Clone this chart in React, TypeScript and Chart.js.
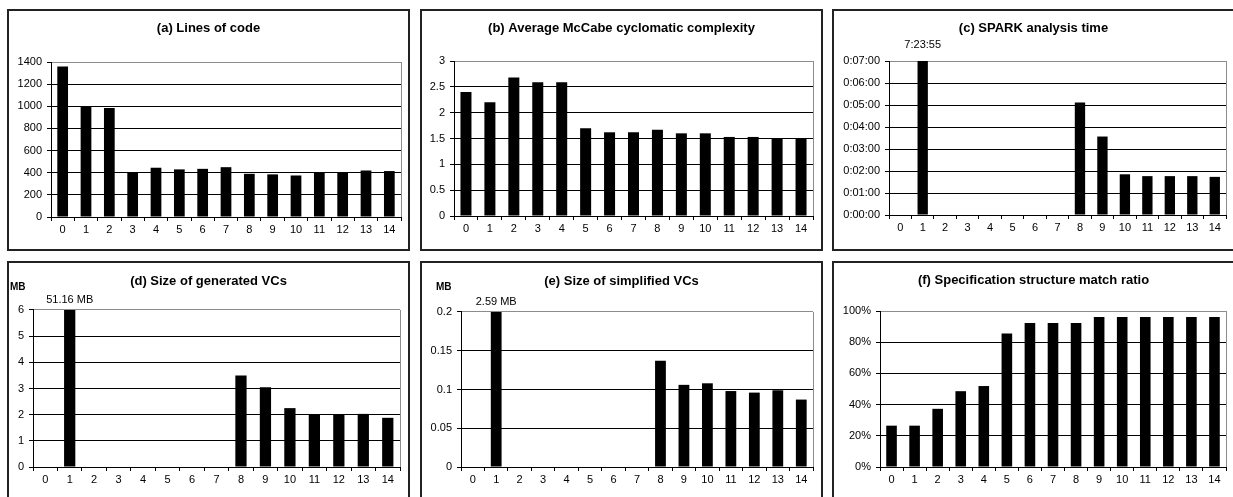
import React, { useEffect, useRef } from 'react';
import { Chart, registerables } from 'chart.js';
Chart.register(...registerables);

// ---------------- data ----------------
const categories = ['0', '1', '2', '3', '4', '5', '6', '7', '8', '9', '10', '11', '12', '13', '14'];

const linesOfCode = [1360, 995, 985, 405, 445, 430, 435, 450, 390, 385, 375, 405, 400, 420, 415];
const mccabeComplexity = [2.4, 2.2, 2.68, 2.59, 2.59, 1.7, 1.62, 1.62, 1.67, 1.6, 1.6, 1.53, 1.53, 1.5, 1.5];
const sparkTimeSeconds = [null, 26635, null, null, null, null, null, null, 307, 214, 111, 106, 106, 106, 104];
const generatedVCsMB = [null, 51.16, null, null, null, null, null, null, 3.5, 3.05, 2.25, 2.0, 2.0, 2.03, 1.88];
const simplifiedVCsMB = [null, 2.59, null, null, null, null, null, null, 0.137, 0.106, 0.108, 0.098, 0.096, 0.099, 0.087];
const matchRatioPct = [26.5, 26.5, 37.3, 48.6, 51.9, 85.5, 92.3, 92.3, 92.3, 96.2, 96.2, 96.2, 96.2, 96.2, 96.2];

const titles = [
  '(a) Lines of code',
  '(b) Average McCabe cyclomatic complexity',
  '(c) SPARK analysis time',
  '(d) Size of generated VCs',
  '(e) Size of simplified VCs',
  '(f) Specification structure match ratio',
];
const seriesList = [linesOfCode, mccabeComplexity, sparkTimeSeconds, generatedVCsMB, simplifiedVCsMB, matchRatioPct];
const yMaxList = [1400, 3, 420, 6, 0.2, 100];
const yStepList = [200, 0.5, 60, 1, 0.05, 20];
const unitLabels = ['', '', '', 'MB', 'MB', ''];

// ---------------- formatting ----------------
const pad2 = (n: number) => (n < 10 ? '0' : '') + n;
const hms = (s: number) => {
  const h = Math.floor(s / 3600);
  const m = Math.floor((s % 3600) / 60);
  const sec = Math.round(s % 60);
  return `${h}:${pad2(m)}:${pad2(sec)}`;
};
const trimNum = (v: number) => String(Number(Number(v).toFixed(6)));
const tickFormats = [trimNum, trimNum, hms, trimNum, trimNum, (v: number) => `${trimNum(v)}%`];
const overflowFormats = [null, null, hms, (v: number) => `${v} MB`, (v: number) => `${v} MB`, null];

// ---------------- layout (styles) ----------------
const FONT = "'Liberation Sans', Arial, Helvetica, sans-serif";
const PW = 403;
const PH = 242;
const panels = [
  { x: 7, y: 9, l: 44, r: 394, t: 53, b: 208, tc: 19.2, gap: 0, ux: 0, uy: 0 },
  { x: 420, y: 9, l: 34, r: 393, t: 52, b: 207, tc: 19.2, gap: 0, ux: 0, uy: 0 },
  { x: 832, y: 9, l: 57, r: 394, t: 52, b: 206, tc: 19.2, gap: 16, ux: 0, uy: 0 },
  { x: 7, y: 261, l: 26, r: 393, t: 49, b: 206, tc: 20, gap: 10, ux: 3, uy: 26 },
  { x: 420, y: 261, l: 41, r: 393, t: 51, b: 206, tc: 20, gap: 10, ux: 16, uy: 26 },
  { x: 832, y: 261, l: 48, r: 394, t: 50, b: 206, tc: 19.6, gap: 0, ux: 0, uy: 0 },
];

const align = (px: number) => Math.round(px - 0.5) + 0.5;

function Panel({ idx }: { idx: number }) {
  const ref = useRef<HTMLCanvasElement | null>(null);
  useEffect(() => {
    if (!ref.current) return;
    const p = panels[idx];
    const yMax = yMaxList[idx];
    const side = PW - p.r;
    const titleLH = 13 * 1.2;
    const titleTop = p.tc - titleLH / 2;
    const fmtOverflow = overflowFormats[idx];
    const unit = unitLabels[idx];

    const decor = {
      id: 'panelDecor' + idx,
      beforeDatasetsDraw(chart: any) {
        const { ctx, chartArea: a } = chart;
        ctx.save();
        ctx.strokeStyle = '#8c8c8c';
        ctx.lineWidth = 1;
        const x = align(a.right);
        ctx.beginPath();
        ctx.moveTo(x, a.top);
        ctx.lineTo(x, a.bottom);
        ctx.stroke();
        ctx.restore();
      },
      afterDraw(chart: any) {
        const { ctx, chartArea: a } = chart;
        const meta = chart.getDatasetMeta(0);
        const data = chart.data.datasets[0].data as (number | null)[];
        ctx.save();
        ctx.fillStyle = '#000';
        ctx.textBaseline = 'middle';
        if (fmtOverflow) {
          ctx.font = `11px ${FONT}`;
          ctx.textAlign = 'center';
          data.forEach((v, i) => {
            if (v != null && v > yMax) {
              ctx.fillText(fmtOverflow(v), meta.data[i].x, a.top - p.gap);
            }
          });
        }
        if (unit) {
          ctx.font = `bold 10px ${FONT}`;
          ctx.textAlign = 'left';
          ctx.fillText(unit, p.ux, p.uy);
        }
        ctx.restore();
      },
    };

    const chart = new Chart(ref.current, {
      type: 'bar',
      data: {
        labels: categories,
        datasets: [
          {
            data: seriesList[idx] as any,
            backgroundColor: '#000',
            borderWidth: 0,
            barPercentage: 0.46,
            categoryPercentage: 1,
            clip: 0 as any,
          },
        ],
      },
      options: {
        responsive: false,
        animation: false,
        events: [],
        layout: { padding: { left: side, right: side, top: 0, bottom: 0 } },
        plugins: {
          legend: { display: false },
          tooltip: { enabled: false },
          title: {
            display: true,
            text: titles[idx],
            color: '#000',
            font: { family: FONT, size: 13, weight: 'bold', lineHeight: 1.2 },
            padding: { top: titleTop, bottom: p.t - titleTop - titleLH },
          },
        },
        scales: {
          x: {
            type: 'category',
            offset: true,
            grid: {
              display: true,
              offset: true,
              drawOnChartArea: false,
              drawTicks: true,
              tickLength: 4,
              color: '#000',
            },
            border: { display: true, color: '#000', width: 1 },
            ticks: {
              color: '#000',
              font: { family: FONT, size: 11 },
              padding: 2,
              autoSkip: false,
              maxRotation: 0,
            },
            afterFit: (s: any) => {
              s.height = PH - p.b;
            },
          },
          y: {
            min: 0,
            max: yMax,
            ticks: {
              stepSize: yStepList[idx],
              color: '#000',
              font: { family: FONT, size: 11 },
              padding: 5,
              callback: (v: any) => tickFormats[idx](Number(v)),
            },
            grid: {
              drawTicks: true,
              tickLength: 4,
              tickColor: '#000',
              color: (c: any) => (c.tick && Math.abs(c.tick.value - yMax) < 1e-9 ? '#8c8c8c' : '#000'),
            },
            border: { display: true, color: '#000', width: 1 },
            afterFit: (s: any) => {
              s.width = p.l - side;
            },
          },
        },
      } as any,
      plugins: [decor as any],
    });
    return () => chart.destroy();
  }, [idx]);

  const p = panels[idx];
  return (
    <div style={{ position: 'absolute', left: p.x, top: p.y, width: PW, height: PH }}>
      <canvas ref={ref} width={PW} height={PH} style={{ position: 'absolute', left: 0, top: 0, width: PW, height: PH }} />
      <div
        style={{
          position: 'absolute',
          left: 0,
          top: 0,
          width: PW,
          height: PH,
          boxSizing: 'border-box',
          border: '2px solid #222',
          pointerEvents: 'none',
        }}
      />
    </div>
  );
}

export default function App() {
  return (
    <div
      style={{
        position: 'fixed',
        left: 0,
        top: 0,
        width: '100vw',
        height: '100vh',
        overflow: 'hidden',
        background: '#fff',
      }}
    >
      {panels.map((_, i) => (
        <Panel key={i} idx={i} />
      ))}
    </div>
  );
}
